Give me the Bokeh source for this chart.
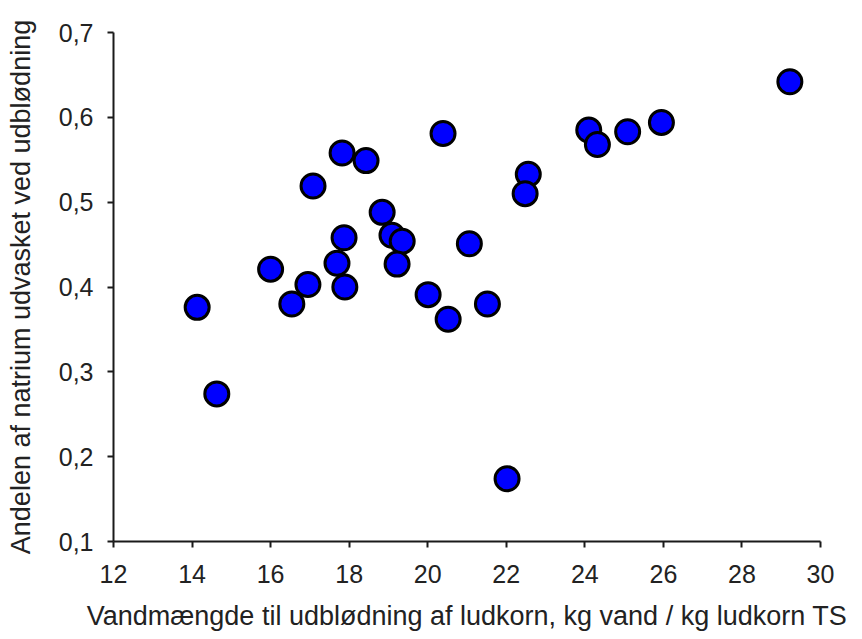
from bokeh.plotting import figure
from bokeh.models import FixedTicker, CustomJSTickFormatter, Range1d, ColumnDataSource
from bokeh.embed import file_html
from bokeh.resources import INLINE

# Data
water = [14.13, 14.63, 16.00, 16.54, 16.95, 17.69, 17.89, 17.82, 18.43, 17.08,
         20.39, 18.84, 17.87, 19.09, 19.35, 19.22, 21.06, 20.01, 20.52, 21.52,
         22.56, 22.48, 24.10, 24.32, 25.09, 25.95, 29.22, 22.02]
sodium = [0.376, 0.274, 0.421, 0.380, 0.403, 0.428, 0.400, 0.558, 0.549, 0.519,
          0.581, 0.488, 0.458, 0.461, 0.454, 0.427, 0.451, 0.391, 0.362, 0.380,
          0.533, 0.510, 0.585, 0.568, 0.583, 0.594, 0.642, 0.174]

x_ticks = [12, 14, 16, 18, 20, 22, 24, 26, 28, 30]
y_ticks = [0.1, 0.2, 0.3, 0.4, 0.5, 0.6, 0.7]
x_title = "Vandmængde til udblødning af ludkorn, kg vand / kg ludkorn TS"
y_title = "Andelen af natrium udvasket ved udblødning"

FONT = "Liberation Sans"

p = figure(width=862, height=639, output_backend="svg", toolbar_location=None,
           x_range=Range1d(12, 30), y_range=Range1d(0.1, 0.7))
p.min_border_left = 113
p.min_border_right = 42
p.min_border_top = 32
p.min_border_bottom = 98
p.outline_line_color = None
p.xgrid.visible = False
p.ygrid.visible = False
p.background_fill_color = "white"
p.border_fill_color = "white"

src = ColumnDataSource(dict(x=water, y=sodium))
p.scatter("x", "y", source=src, marker="circle", size=24,
          fill_color="#0000ff", line_color="black", line_width=3)

p.xaxis.ticker = FixedTicker(ticks=x_ticks)
p.yaxis.ticker = FixedTicker(ticks=y_ticks)
p.yaxis.formatter = CustomJSTickFormatter(code="return tick.toFixed(1).replace('.', ',');")

for ax in (p.xaxis[0], p.yaxis[0]):
    ax.axis_line_color = "#1a1a1a"
    ax.axis_line_width = 2
    ax.major_tick_line_color = "#1a1a1a"
    ax.major_tick_line_width = 2
    ax.major_tick_out = 6
    ax.major_tick_in = 0
    ax.minor_tick_line_color = None
    ax.major_label_text_font = FONT
    ax.major_label_text_font_size = "25px"
    ax.major_label_text_color = "#222222"
    ax.axis_label_text_font = FONT
    ax.axis_label_text_font_size = "27px"
    ax.axis_label_text_font_style = "normal"
    ax.axis_label_text_color = "#222222"

p.xaxis.major_label_standoff = 17
p.xaxis.axis_label_standoff = 15
p.yaxis.major_label_standoff = 14
p.yaxis.axis_label_standoff = 20

p.xaxis.axis_label = x_title
p.yaxis.axis_label = y_title

open("out.html", "w").write(file_html(p, INLINE))
